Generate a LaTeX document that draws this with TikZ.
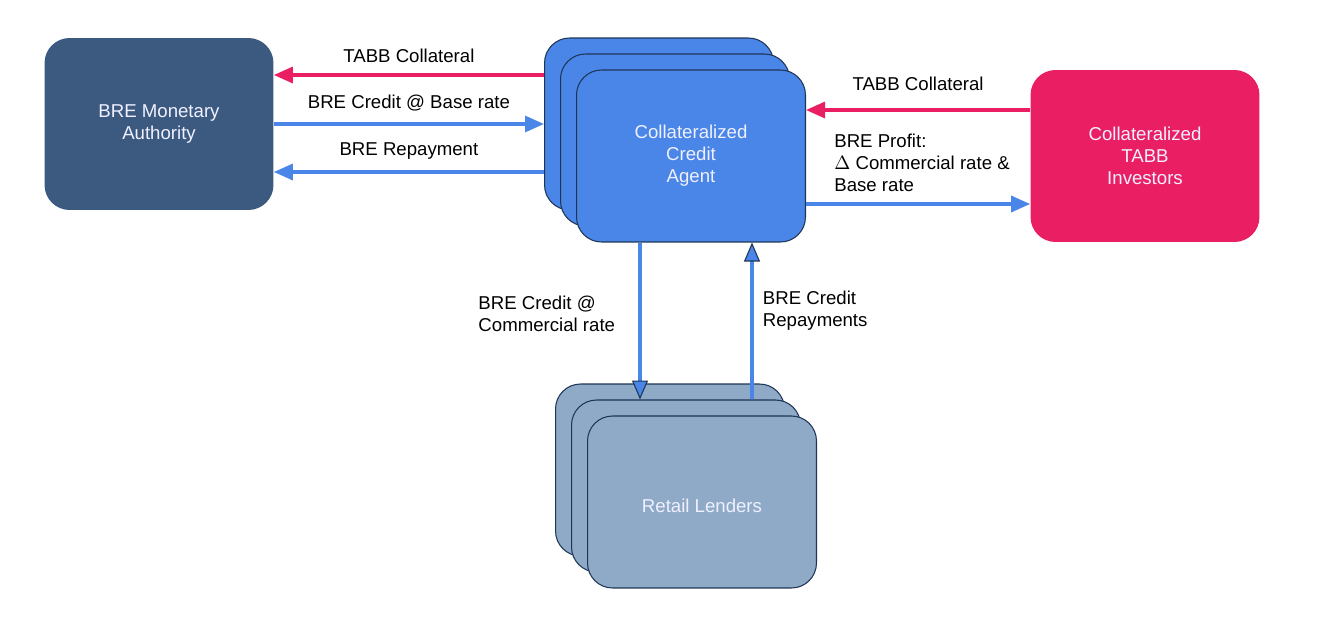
\documentclass[tikz,border=0pt]{standalone}
\usepackage{fontspec}
\setmainfont{Liberation Sans}
\usetikzlibrary{positioning,arrows.meta}
\definecolor{authority}{HTML}{3C5A80}
\definecolor{agentblue}{HTML}{4A86E8}
\definecolor{investred}{HTML}{E91E63}
\definecolor{retailblue}{HTML}{8EAAC7}
\definecolor{boxline}{HTML}{1E3556}
\tikzset{%
  every box/.style={
    rectangle,
    rounded corners=0.5cm,
    minimum width=4.58cm,
    minimum height=3.44cm,
    align=center,
    text=white!94!blue,
    execute at begin node=\rule{0pt}{12pt}
  },
  agent box/.style={every box, fill=agentblue, draw=boxline, line width=0.6pt},
  retail box/.style={every box, fill=retailblue, draw=boxline, line width=0.6pt},
  flow/.style={
    line width=1.8pt,
    -{Triangle[length=0.38cm,width=0.32cm]}
  },
  vflow/.style={
    flow, agentblue,
    -{Triangle[length=0.38cm,width=0.32cm,fill=agentblue,color=boxline,line width=0.6pt]}
  },
  tag/.style={text=black},
}

\begin{document}
\begin{tikzpicture}[x=0.02cm,y=-0.02cm,font=\fontsize{10.6}{12.5}\selectfont]
      \useasboundingbox (0,0) rectangle (1325,629);

      \node[every box, fill=authority] (mon) at (159,124) {BRE Monetary\\Authority};

      % stacked agents
      \node[agent box] (agentback) at (659,124) {};
      \node[agent box] (agentmid) at ([shift={(16,16)}]agentback.center) {};
      \node[agent box] (agent) at ([shift={(16,16)}]agentmid.center) {Collateralized\\Credit\\Agent};

      \node[every box, fill=investred] (inv) at (1145,156) {Collateralized\\TABB\\Investors};

      % stacked lenders
      \node[retail box] (retailback) at (670,470) {};
      \node[retail box] (retailmid) at ([shift={(16,16)}]retailback.center) {};
      \node[retail box] (retail) at ([shift={(16,16)}]retailmid.center) {Retail Lenders};

      \draw[flow, investred] ([shift={(0,-49)}]agentback.west) -- node[tag, above=3pt] {TABB Collateral} ([shift={(0,-49)}]mon.east);
      \draw[flow, agentblue] (mon.east) -- node[tag, above=3pt] {BRE Credit @ Base rate} (agentback.west);
      \draw[flow, agentblue] ([shift={(0,48)}]agentback.west) -- node[tag, above=3pt] {BRE Repayment} ([shift={(0,48)}]mon.east);

      \draw[flow, investred] ([shift={(0,-46)}]inv.west) -- node[tag, above=7pt] {TABB Collateral} ([shift={(0,-46)}]agent.east);
      \draw[flow, agentblue] ([shift={(0,48)}]agent.east) -- node[tag, pos=0, anchor=south west, xshift=0.5cm, align=left, inner sep=1pt, yshift=5pt] {BRE Profit:\\$\Delta$ Commercial rate \&\\Base rate} ([shift={(0,48)}]inv.west);

      \draw[vflow] ([shift={(-51,0)}]agent.south) -- node[tag, left=0.35cm, align=left, yshift=0.14cm] {BRE Credit @\\Commercial rate} ([shift={(-46,0)}]retailmid.north);
      \draw[vflow] ([shift={(66,0)}]retailmid.north) -- node[tag, right=0.07cm, align=left, yshift=0.2cm] {BRE Credit\\Repayments} ([shift={(61,0)}]agent.south);
\end{tikzpicture}
\end{document}
